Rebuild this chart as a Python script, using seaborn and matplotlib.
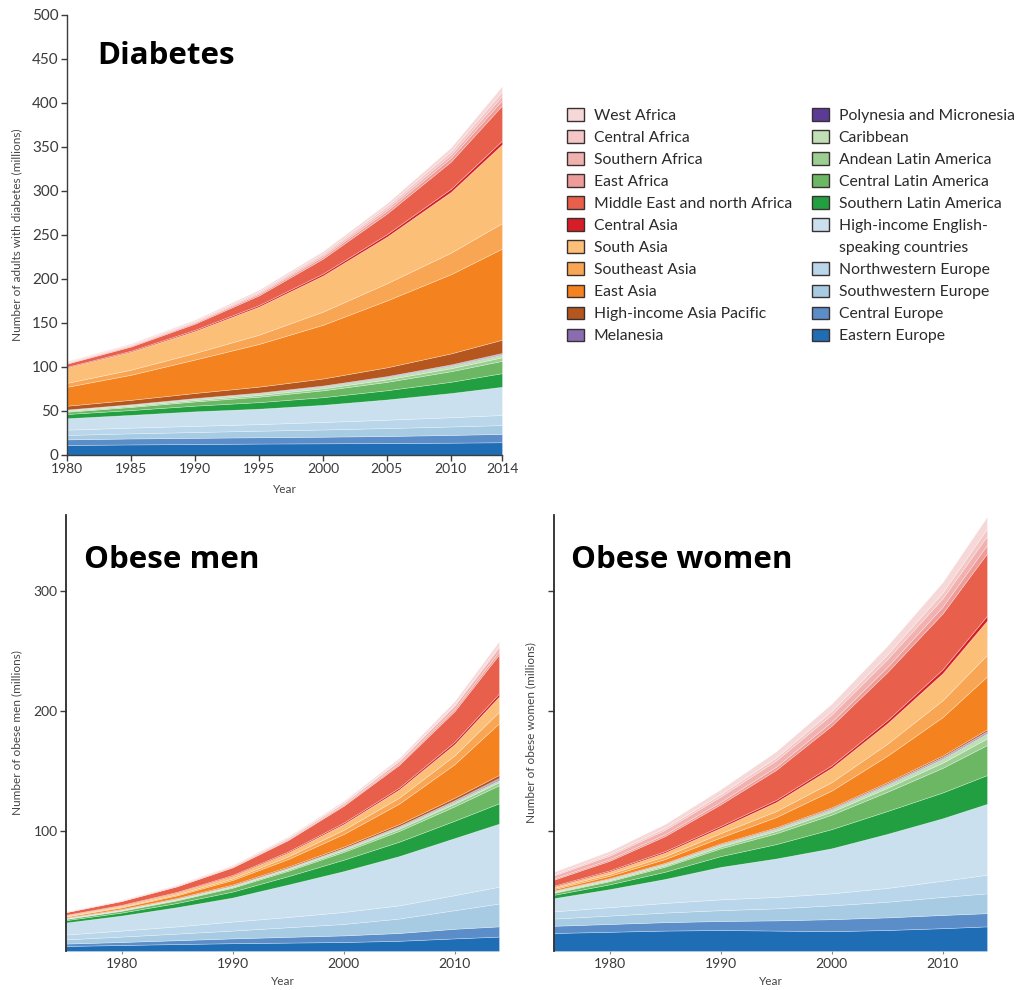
import matplotlib
matplotlib.use("Agg")
import matplotlib.pyplot as plt
from matplotlib.patches import Patch
import numpy as np
import pandas as pd
import seaborn as sns

# ---------------------------------------------------------------- regions
REGIONS = [
    "West Africa", "Central Africa", "Southern Africa", "East Africa",
    "Middle East and north Africa", "Central Asia", "South Asia",
    "Southeast Asia", "East Asia", "High-income Asia Pacific", "Melanesia",
    "Polynesia and Micronesia", "Caribbean", "Andean Latin America",
    "Central Latin America", "Southern Latin America",
    "High-income English-speaking countries", "Northwestern Europe",
    "Southwestern Europe", "Central Europe", "Eastern Europe",
]
COLORS = [
    "#f7d8d8", "#f4c6c6", "#f1b1af", "#ee9c99",
    "#e8604b", "#d71e26", "#fcbf77",
    "#f9a654", "#f4831f", "#b5561f", "#8a6cb3",
    "#5b3b96", "#c0dfb6", "#9bcf92",
    "#6cb764", "#22a041",
    "#cbe0ef", "#bad6ea",
    "#a6cbe3", "#5b8dc9", "#1f6db4",
]

# ---------------------------------------------------------------- diabetes (millions of adults)
diab_years = [1980, 1985, 1990, 1995, 2000, 2005, 2010, 2014]
diab_west_africa = [0.8, 1.0, 1.3, 1.8, 2.4, 3.2, 4.4, 6.0]
diab_central_africa = [0.6, 0.8, 1.0, 1.4, 1.9, 2.6, 3.6, 5.0]
diab_southern_africa = [0.6, 0.8, 1.0, 1.4, 1.9, 2.6, 3.6, 5.0]
diab_east_africa = [0.8, 1.0, 1.3, 1.8, 2.4, 3.2, 4.4, 6.0]
diab_mena = [3.5, 4.8, 7.0, 11.0, 17.0, 23.5, 31.0, 40.0]
diab_central_asia = [0.8, 1.0, 1.3, 1.7, 2.2, 2.8, 3.5, 4.2]
diab_south_asia = [17.5, 20.5, 25.0, 32.0, 41.0, 53.0, 69.0, 89.5]
diab_southeast_asia = [4.5, 5.8, 7.5, 10.5, 15.0, 19.5, 24.5, 29.0]
diab_east_asia = [21.5, 28.5, 38.0, 48.5, 61.0, 76.0, 90.0, 103.5]
diab_hi_asia_pacific = [4.3, 5.0, 5.8, 6.8, 8.0, 10.0, 12.5, 15.0]
diab_melanesia = [0.2, 0.25, 0.3, 0.35, 0.45, 0.55, 0.65, 0.8]
diab_polynesia = [0.2, 0.25, 0.3, 0.35, 0.4, 0.5, 0.6, 0.7]
diab_caribbean = [1.2, 1.4, 1.7, 2.0, 2.3, 2.7, 3.1, 3.5]
diab_andean_la = [1.0, 1.2, 1.5, 1.9, 2.3, 2.8, 3.4, 4.0]
diab_central_la = [2.5, 3.5, 4.8, 6.2, 7.8, 9.5, 12.0, 14.0]
diab_southern_la = [4.8, 5.5, 6.5, 7.5, 8.7, 10.5, 12.8, 15.5]
diab_hi_english = [13.0, 14.5, 16.5, 17.5, 19.5, 23.0, 27.5, 32.0]
diab_nw_europe = [6.0, 6.5, 7.0, 7.5, 8.5, 9.5, 10.5, 11.5]
diab_sw_europe = [5.0, 5.8, 6.6, 7.4, 8.2, 9.0, 9.6, 10.0]
diab_central_europe = [6.4, 6.8, 7.0, 7.2, 7.5, 8.0, 8.8, 9.5]
diab_eastern_europe = [11.4, 12.0, 12.5, 13.0, 13.3, 13.6, 14.0, 14.5]

# ---------------------------------------------------------------- obese men (millions)
obese_years = [1975, 1980, 1985, 1990, 1995, 2000, 2005, 2010, 2014]
men_west_africa = [0.2, 0.3, 0.4, 0.6, 0.85, 1.2, 1.7, 2.5, 3.5]
men_central_africa = [0.1, 0.15, 0.2, 0.3, 0.45, 0.6, 0.85, 1.2, 1.5]
men_southern_africa = [0.3, 0.4, 0.55, 0.75, 1.0, 1.35, 1.9, 2.7, 3.5]
men_east_africa = [0.15, 0.2, 0.3, 0.45, 0.65, 0.9, 1.3, 1.9, 2.5]
men_mena = [2.2, 3.2, 4.6, 6.3, 9.5, 14.0, 19.0, 25.5, 32.5]
men_central_asia = [0.3, 0.4, 0.5, 0.7, 0.9, 1.2, 1.5, 2.0, 2.5]
men_south_asia = [0.8, 1.1, 1.5, 2.2, 3.2, 4.8, 6.8, 9.4, 12.6]
men_southeast_asia = [0.4, 0.6, 0.9, 1.3, 2.2, 3.5, 5.0, 7.3, 9.7]
men_east_asia = [0.8, 1.3, 2.2, 3.8, 6.3, 10.5, 17.0, 28.0, 43.0]
men_hi_asia_pacific = [0.3, 0.4, 0.5, 0.7, 0.9, 1.2, 1.6, 2.0, 2.5]
men_melanesia = [0.05, 0.06, 0.08, 0.1, 0.15, 0.2, 0.3, 0.5, 0.8]
men_polynesia = [0.1, 0.15, 0.2, 0.25, 0.3, 0.4, 0.5, 0.6, 0.8]
men_caribbean = [0.4, 0.5, 0.6, 0.8, 1.0, 1.2, 1.5, 1.8, 2.0]
men_andean_la = [0.3, 0.4, 0.6, 0.8, 1.1, 1.4, 1.8, 2.2, 2.5]
men_central_la = [1.0, 1.5, 2.2, 3.2, 4.5, 6.5, 9.0, 12.0, 15.0]
men_southern_la = [2.0, 2.5, 3.5, 5.0, 7.0, 9.5, 12.0, 14.5, 17.0]
men_hi_english = [10.0, 12.5, 16.0, 20.0, 27.0, 34.0, 41.0, 47.5, 52.5]
men_nw_europe = [4.0, 5.0, 6.0, 7.5, 8.5, 10.0, 11.0, 12.5, 14.0]
men_sw_europe = [3.5, 4.5, 5.5, 6.5, 8.0, 9.5, 12.0, 15.5, 19.0]
men_central_europe = [2.0, 2.5, 3.2, 4.0, 4.8, 5.5, 6.5, 8.0, 8.5]
men_eastern_europe = [4.2, 5.0, 5.8, 6.5, 7.0, 7.5, 8.5, 10.5, 12.0]

# ---------------------------------------------------------------- obese women (millions)
women_west_africa = [2.0, 2.5, 3.2, 4.0, 5.0, 6.0, 7.3, 8.6, 10.0]
women_central_africa = [1.0, 1.3, 1.6, 2.0, 2.5, 3.0, 3.8, 4.8, 6.0]
women_southern_africa = [2.5, 3.0, 3.7, 4.5, 5.3, 6.0, 6.5, 7.0, 7.5]
women_east_africa = [1.0, 1.3, 1.6, 2.0, 2.6, 3.3, 4.3, 5.6, 7.0]
women_mena = [5.0, 8.0, 12.5, 18.0, 25.0, 33.0, 40.0, 46.5, 52.0]
women_central_asia = [0.7, 0.9, 1.2, 1.5, 1.8, 2.0, 2.6, 3.3, 4.0]
women_south_asia = [1.2, 2.0, 3.0, 4.5, 7.5, 12.0, 17.0, 22.5, 28.5]
women_southeast_asia = [1.0, 1.6, 2.4, 3.5, 5.0, 7.0, 10.0, 14.0, 18.0]
women_east_asia = [1.2, 2.0, 3.2, 5.0, 8.5, 14.0, 22.0, 32.0, 44.0]
women_hi_asia_pacific = [0.3, 0.4, 0.5, 0.6, 0.7, 0.8, 1.0, 1.2, 1.5]
women_melanesia = [0.05, 0.08, 0.1, 0.15, 0.2, 0.3, 0.45, 0.6, 0.8]
women_polynesia = [0.2, 0.25, 0.3, 0.35, 0.4, 0.5, 0.6, 0.7, 0.8]
women_caribbean = [0.8, 1.0, 1.2, 1.5, 1.7, 2.0, 2.6, 3.5, 4.5]
women_andean_la = [0.6, 0.8, 1.1, 1.5, 2.0, 2.5, 3.3, 4.3, 5.5]
women_central_la = [1.6, 2.6, 4.2, 6.5, 9.0, 12.0, 16.0, 20.5, 25.0]
women_southern_la = [2.8, 4.0, 6.0, 9.0, 12.0, 16.0, 19.0, 21.5, 24.0]
women_hi_english = [11.0, 15.0, 20.0, 27.0, 32.0, 37.5, 45.0, 52.0, 59.0]
women_nw_europe = [6.0, 7.0, 8.0, 9.0, 9.5, 10.0, 11.5, 13.5, 15.5]
women_sw_europe = [6.0, 7.0, 8.0, 9.0, 10.0, 11.5, 13.0, 15.0, 16.5]
women_central_europe = [6.0, 6.5, 7.0, 7.5, 8.5, 10.0, 10.5, 11.0, 11.0]
women_eastern_europe = [15.0, 16.0, 17.0, 17.5, 17.0, 16.5, 17.5, 19.0, 20.5]

diabetes = pd.DataFrame(dict(zip(REGIONS, [
    diab_west_africa, diab_central_africa, diab_southern_africa, diab_east_africa,
    diab_mena, diab_central_asia, diab_south_asia, diab_southeast_asia,
    diab_east_asia, diab_hi_asia_pacific, diab_melanesia, diab_polynesia,
    diab_caribbean, diab_andean_la, diab_central_la, diab_southern_la,
    diab_hi_english, diab_nw_europe, diab_sw_europe, diab_central_europe,
    diab_eastern_europe])), index=diab_years)

obese_men = pd.DataFrame(dict(zip(REGIONS, [
    men_west_africa, men_central_africa, men_southern_africa, men_east_africa,
    men_mena, men_central_asia, men_south_asia, men_southeast_asia,
    men_east_asia, men_hi_asia_pacific, men_melanesia, men_polynesia,
    men_caribbean, men_andean_la, men_central_la, men_southern_la,
    men_hi_english, men_nw_europe, men_sw_europe, men_central_europe,
    men_eastern_europe])), index=obese_years)

obese_women = pd.DataFrame(dict(zip(REGIONS, [
    women_west_africa, women_central_africa, women_southern_africa, women_east_africa,
    women_mena, women_central_asia, women_south_asia, women_southeast_asia,
    women_east_asia, women_hi_asia_pacific, women_melanesia, women_polynesia,
    women_caribbean, women_andean_la, women_central_la, women_southern_la,
    women_hi_english, women_nw_europe, women_sw_europe, women_central_europe,
    women_eastern_europe])), index=obese_years)

# ---------------------------------------------------------------- style
sns.set_theme(style="ticks")
plt.rcParams["font.family"] = ["Lato", "DejaVu Sans"]
palette = sns.color_palette(COLORS)
color_of = dict(zip(REGIONS, palette))

INK = "#3c3c3c"
W, H = 1018, 990
fig = plt.figure(figsize=(W / 100, H / 100), dpi=100)


def px_axes(left, top, right, bottom):
    return fig.add_axes([left / W, 1 - bottom / H, (right - left) / W, (bottom - top) / H])


def stack(ax, df):
    order = REGIONS[::-1]  # Eastern Europe at the bottom
    ax.stackplot(df.index.values, *[df[r].values for r in order],
                 colors=[color_of[r] for r in order],
                 edgecolor=(1, 1, 1, 0.4), linewidth=0.45)


# Diabetes panel
ax_d = px_axes(67, 15, 502, 455)
stack(ax_d, diabetes)
ax_d.set_xlim(1980, 2014)
ax_d.set_ylim(0, 500)
ax_d.set_xticks([1980, 1985, 1990, 1995, 2000, 2005, 2010, 2014])
ax_d.set_yticks(np.arange(0, 501, 50))
sns.despine(ax=ax_d)
for s in ("left", "bottom"):
    ax_d.spines[s].set_color(INK)
    ax_d.spines[s].set_linewidth(1.0)
ax_d.tick_params(axis="both", direction="out", length=4, width=1, color=INK,
                 labelcolor="#3a3a3a")
ax_d.tick_params(axis="x", labelsize=10, pad=2)
ax_d.tick_params(axis="y", labelsize=11, pad=2)
ax_d.set_xlabel("Year", fontsize=8.5, color="#444444")
ax_d.set_ylabel("Number of adults with diabetes (millions)", fontsize=8.5, color="#444444")
ax_d.xaxis.set_label_coords(0.5, -0.066)
ax_d.yaxis.set_label_coords(-0.103, 0.5)


def obese_panel(ax, df, ylabel, show_labels):
    stack(ax, df)
    ax.set_xlim(1975, 2014)
    ax.set_ylim(0, 363)
    ax.set_xticks([1980, 1990, 2000, 2010])
    ax.set_yticks([100, 200, 300])
    if not show_labels:
        ax.set_yticklabels([])
    sns.despine(ax=ax, bottom=True)
    ax.spines["left"].set_color("#2a2a2a")
    ax.spines["left"].set_linewidth(1.3)
    ax.tick_params(axis="y", direction="out", length=4, width=1, color=INK,
                   labelsize=10, labelcolor="#3a3a3a", pad=2)
    ax.tick_params(axis="x", direction="out", length=2, width=0.8, color="#888888",
                   labelsize=10, labelcolor="#3a3a3a", pad=3)
    ax.set_xlabel("Year", fontsize=8.5, color="#444444")
    ax.set_ylabel(ylabel, fontsize=8.5, color="#444444")
    ax.xaxis.set_label_coords(0.5, -0.058)


ax_m = px_axes(66, 515, 499, 951)
obese_panel(ax_m, obese_men, "Number of obese men (millions)", True)
ax_m.yaxis.set_label_coords(-0.1, 0.5)

ax_w = px_axes(554, 515, 987, 951)
obese_panel(ax_w, obese_women, "Number of obese women (millions)", False)
ax_w.yaxis.set_label_coords(-0.042, 0.5)

# Panel titles
title_kw = dict(fontsize=22.5, fontweight="bold", color="black",
                family=["Open Sans", "DejaVu Sans"], va="baseline", ha="left")
fig.text(97 / W, 1 - 64 / H, "Diabetes", **title_kw)
fig.text(84 / W, 1 - 568 / H, "Obese men", **title_kw)
fig.text(571 / W, 1 - 568 / H, "Obese women", **title_kw)

# Legend: two columns, the long English-speaking label wraps onto a second row
handles, labels = [], []
for r in REGIONS:
    if r == "High-income English-speaking countries":
        handles.append(Patch(facecolor=color_of[r], edgecolor="#3a3030", linewidth=1.0))
        labels.append("High-income English-")
        handles.append(Patch(facecolor="none", edgecolor="none"))
        labels.append("speaking countries")
    else:
        handles.append(Patch(facecolor=color_of[r], edgecolor="#3a3030", linewidth=1.0))
        labels.append(r)

fig.legend(handles, labels, ncol=2, loc="upper left",
           bbox_to_anchor=(567 / W, 1 - 108 / H), frameon=False,
           fontsize=11.3, handlelength=1.1, handleheight=0.85, handletextpad=0.6,
           labelspacing=0.47, columnspacing=1.28, borderaxespad=0, borderpad=0,
           labelcolor="#2a2a2a")

fig.savefig("out.png", dpi=100)
